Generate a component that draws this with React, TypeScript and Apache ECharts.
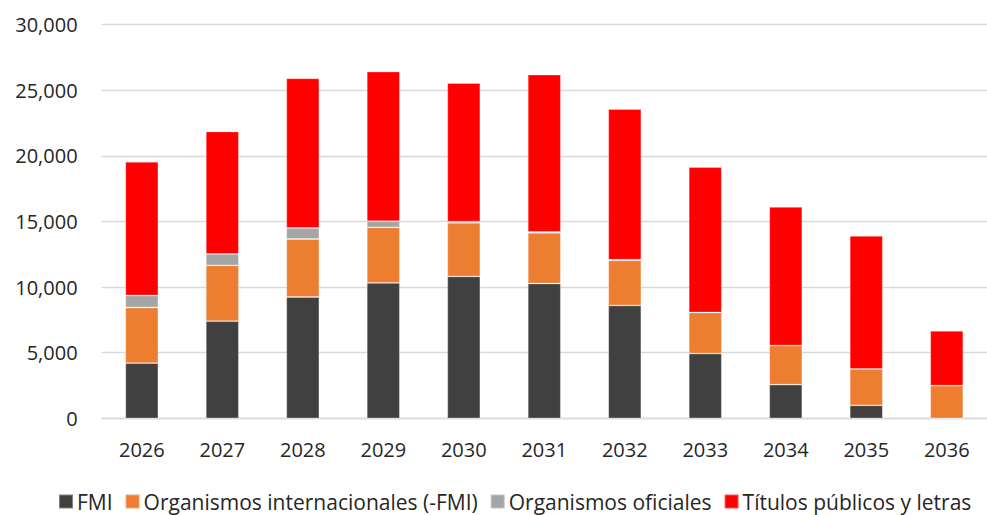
import React, { useEffect, useRef } from "react";
import * as echarts from "echarts";

const categories = ["2026", "2027", "2028", "2029", "2030", "2031", "2032", "2033", "2034", "2035", "2036"];
const fmi = [4200, 7400, 9240, 10310, 10810, 10270, 8600, 4930, 2560, 990, 0];
const organismosInt = [4240, 4250, 4420, 4240, 4080, 3850, 3430, 3130, 2980, 2770, 2490];
const organismosOf = [920, 870, 840, 460, 100, 80, 50, 0, 0, 0, 0];
const titulos = [10180, 9330, 11400, 11400, 10550, 11980, 11480, 11070, 10560, 10130, 4170];
const yTicks = { min: 0, max: 30000, interval: 5000 };

const FONT = "'Open Sans', 'Noto Sans', sans-serif";

export default function App() {
  const ref = useRef<HTMLDivElement>(null);
  useEffect(() => {
    if (!ref.current) return;
    const chart = echarts.init(ref.current, undefined, { renderer: "svg" });
    const mk = (name: string, data: number[], color: string) => ({
      name,
      type: "bar",
      stack: "total",
      data,
      barWidth: 33,
      itemStyle: { color, borderColor: "rgba(255,255,255,0.35)", borderWidth: 0.8 },
      emphasis: { disabled: true },
    });
    chart.setOption({
      animation: false,
      textStyle: { fontFamily: FONT },
      grid: { left: 101.6, width: 896, top: 24.5, bottom: 96.7, containLabel: false },
      legend: {
        bottom: -2,
        left: 53,
        itemWidth: 14,
        itemHeight: 14,
        itemGap: 12,
        icon: "rect",
        textStyle: { fontFamily: FONT, fontSize: 21, color: "#262626", padding: [0, 0, 0, -1] },
        data: ["FMI", "Organismos internacionales (-FMI)", "Organismos oficiales", "Títulos públicos y letras"],
      },
      xAxis: {
        type: "category",
        data: categories,
        axisLine: { lineStyle: { color: "#D9D9D9", width: 1.3 } },
        axisTick: { show: false },
        axisLabel: { color: "#262626", fontSize: 20, fontFamily: FONT, margin: 21 },
      },
      yAxis: {
        type: "value",
        min: yTicks.min,
        max: yTicks.max,
        interval: yTicks.interval,
        axisLine: { show: false },
        axisTick: { show: false },
        splitLine: { lineStyle: { color: "#D9D9D9", width: 1.3 } },
        axisLabel: {
          color: "#262626",
          fontSize: 20,
          fontFamily: FONT,
          margin: 24,
          formatter: (v: number) => v.toLocaleString("en-US"),
        },
      },
      series: [
        mk("FMI", fmi, "#404040"),
        mk("Organismos internacionales (-FMI)", organismosInt, "#ED7D31"),
        mk("Organismos oficiales", organismosOf, "#A5A5A5"),
        mk("Títulos públicos y letras", titulos, "#FF0000"),
      ],
    });
    return () => chart.dispose();
  }, []);
  return (
    <div
      ref={ref}
      style={{ position: "fixed", left: 0, top: 0, width: 987, height: 515, background: "#fff" }}
    />
  );
}
